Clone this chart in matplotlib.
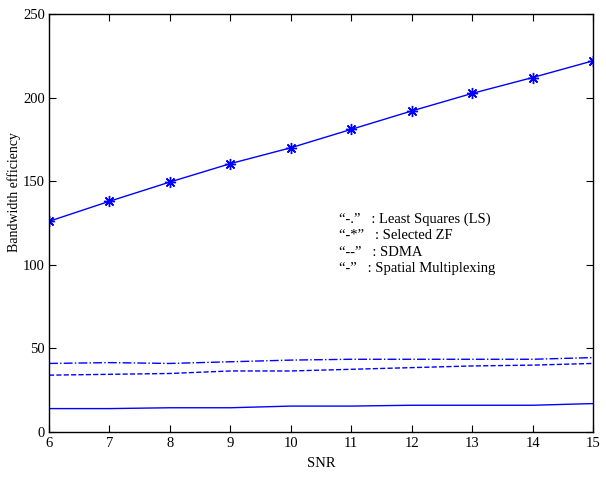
import matplotlib
import matplotlib.pyplot as plt

matplotlib.use("Agg")

plt.rcParams["font.family"] = ["Liberation Serif", "DejaVu Serif"]

snr = [6, 7, 8, 9, 10, 11, 12, 13, 14, 15]
selected_zf = [126, 138, 149.5, 160.5, 170, 181, 192, 202.5, 212, 222]
least_squares = [41, 41.5, 41, 42, 43, 43.5, 43.5, 43.5, 43.5, 44.5]
sdma = [34, 34.5, 35, 36.5, 36.5, 37.5, 38.5, 39.5, 40, 41]
spatial_mux = [14, 14, 14.5, 14.5, 15.5, 15.5, 16, 16, 16, 17]

fig = plt.figure(figsize=(6.06, 4.78), dpi=100)
ax = fig.add_axes([49 / 606, 46 / 478, 544 / 606, 418 / 478])

# MATLAB-like asterisk marker
ax.plot(snr, selected_zf, color="blue", lw=1, marker=(8, 2, 0), ms=8, mew=1)
ax.plot(snr, least_squares, color="blue", lw=1, ls="-.")
ax.plot(snr, sdma, color="blue", lw=1, ls="--")
ax.plot(snr, spatial_mux, color="blue", lw=1, ls="-")

ax.set_xlim(6, 15)
ax.set_ylim(0, 250)
ax.set_xticks(snr)
ax.set_yticks([0, 50, 100, 150, 200, 250])
ax.tick_params(direction="in", top=True, right=True, labelsize=10.5, length=5)
ax.tick_params(axis="y", pad=3)
for s in ax.spines.values():
    s.set_linewidth(1)

ax.set_xlabel("SNR", fontsize=10.5, labelpad=5)
ax.set_ylabel("Bandwidth efficiency", fontsize=10)
ax.yaxis.set_label_coords(-0.052, 0.575)

ax.text(10.8, 131.5,
        "\u201c-.\u201d   : Least Squares (LS)\n"
        "\u201c-*\u201d   : Selected ZF\n"
        "\u201c--\u201d   : SDMA\n"
        "\u201c-\u201d   : Spatial Multiplexing",
        fontsize=10.5, va="top", ha="left", linespacing=1.35)

fig.savefig("out.png", dpi=100)
